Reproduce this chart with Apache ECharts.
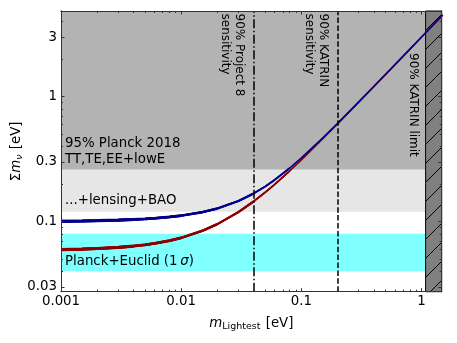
<!DOCTYPE html>
<html>
<head>
<meta charset="utf-8">
<script src="https://cdn.jsdelivr.net/npm/echarts@6/dist/echarts.min.js"></script>
<style>
html, body { margin: 0; padding: 0; background: #fff; }
#chart { width: 457px; height: 343px; }
</style>
</head>
<body>
<div id="chart"></div>
<script>
// lightest neutrino mass [eV]
var mLightest = [0.001, 0.0015, 0.002, 0.003, 0.004, 0.005, 0.006, 0.008, 0.01, 0.015, 0.02, 0.03,
    0.04, 0.05, 0.06, 0.08, 0.1, 0.15, 0.2, 0.3, 0.4, 0.5, 0.7, 1.0, 1.5];
// sum of masses, normal ordering (red)
var sumNormal = [0.0597, 0.0603, 0.0609, 0.0622, 0.0637, 0.0652, 0.0669, 0.0704, 0.0742, 0.0845, 0.0956, 0.1195,
    0.1450, 0.1715, 0.1987, 0.2548, 0.3122, 0.4584, 0.6063, 0.9043, 1.2032, 1.5026, 2.1018, 3.0013, 4.5009];
// sum of masses, inverted ordering (blue)
var sumInverted = [0.1007, 0.1012, 0.1018, 0.1029, 0.1040, 0.1052, 0.1064, 0.1090, 0.1117, 0.1191, 0.1274, 0.1464,
    0.1678, 0.1912, 0.2160, 0.2685, 0.3235, 0.4661, 0.6122, 0.9082, 1.2062, 1.5050, 2.1035, 3.0025, 4.5017];

// limits (eV)
var planck2018 = 0.26;
var lensingBAO = 0.12;
var euclidBand = [0.04, 0.08];
var project8 = 0.04;
var katrinSens = 0.2;
var katrinLimit = 1.08;

var xMin = 0.001, xMax = 1.47;
var yMin = 0.0275, yMax = 4.85;
var xTickValues = [0.001, 0.01, 0.1, 1];
var xTickLabels = ['0.001', '0.01', '0.1', '1'];
var xMinorTicks = [0.002, 0.003, 0.004, 0.005, 0.006, 0.007, 0.008, 0.009,
    0.02, 0.03, 0.04, 0.05, 0.06, 0.07, 0.08, 0.09,
    0.2, 0.3, 0.4, 0.5, 0.6, 0.7, 0.8, 0.9];
var yTickValues = [0.03, 0.1, 0.3, 1, 3];
var yTickLabels = ['0.03', '0.1', '0.3', '1', '3'];
var yMinorTicks = [0.04, 0.05, 0.06, 0.07, 0.08, 0.09, 0.2, 0.4, 0.5, 0.6, 0.7, 0.8, 0.9, 2, 4];

var FONT = 'DejaVu Sans';
var AXIS_COLOR = '#333';

// hatch pattern for the KATRIN exclusion
var hatch = document.createElement('canvas');
hatch.width = 19; hatch.height = 19;
(function () {
    var c = hatch.getContext('2d');
    c.fillStyle = '#808080';
    c.fillRect(0, 0, 19, 19);
    c.strokeStyle = '#000';
    c.lineWidth = 1;
    c.beginPath();
    c.moveTo(-2, 21); c.lineTo(21, -2);
    c.stroke();
})();

function lookup(values, labels) {
    return function (v) {
        for (var i = 0; i < values.length; i++) {
            if (Math.abs(v / values[i] - 1) < 1e-6) return labels[i];
        }
        return '';
    };
}

function makeAxis(kind, pos, ticks, len, withLabels) {
    var ax = {
        type: 'log',
        logBase: 10,
        min: kind === 'x' ? xMin : yMin,
        max: kind === 'x' ? xMax : yMax,
        position: pos,
        z: 10,
        axisLine: { show: true, onZero: false, lineStyle: { color: AXIS_COLOR, width: 1 } },
        axisTick: { show: true, inside: true, length: len, customValues: ticks,
            lineStyle: { color: AXIS_COLOR, width: 1 } },
        minorTick: { show: false },
        splitLine: { show: false },
        axisLabel: { show: false }
    };
    if (withLabels) {
        var vals = kind === 'x' ? xTickValues : yTickValues;
        var labs = kind === 'x' ? xTickLabels : yTickLabels;
        ax.axisLabel = {
            show: true, customValues: vals, formatter: lookup(vals, labs),
            color: '#000', fontFamily: FONT, fontSize: 13.33, margin: kind === 'x' ? 3 : 4
        };
    }
    return ax;
}

var xAxes = [
    makeAxis('x', 'bottom', xTickValues, 3.5, true),
    makeAxis('x', 'bottom', xMinorTicks, 2, false),
    makeAxis('x', 'top', xTickValues, 3.5, false),
    makeAxis('x', 'top', xMinorTicks, 2, false)
];
var yAxes = [
    makeAxis('y', 'left', yTickValues, 3.5, true),
    makeAxis('y', 'left', yMinorTicks, 2, false),
    makeAxis('y', 'right', yTickValues, 3.5, false),
    makeAxis('y', 'right', yMinorTicks, 2, false)
];

xAxes[0].name = '{i|m}{s|Lightest} [eV]';
xAxes[0].nameLocation = 'middle';
xAxes[0].nameGap = 23;
xAxes[0].nameMoveOverlap = false;
xAxes[0].nameTextStyle = {
    color: '#000', fontFamily: FONT, fontSize: 13.33,
    rich: {
        i: { fontStyle: 'italic', fontFamily: FONT, fontSize: 13.33, color: '#000' },
        s: { fontFamily: FONT, fontSize: 9.5, color: '#000', padding: [7, 1, 0, 0] }
    }
};
yAxes[0].name = 'Σ{i|m}{s|ν} [eV]';
yAxes[0].nameLocation = 'middle';
yAxes[0].nameGap = 36;
yAxes[0].nameMoveOverlap = false;
yAxes[0].nameTextStyle = {
    color: '#000', fontFamily: FONT, fontSize: 13.33,
    rich: {
        i: { fontStyle: 'italic', fontFamily: FONT, fontSize: 13.33, color: '#000' },
        s: { fontStyle: 'italic', fontFamily: FONT, fontSize: 9.5, color: '#000', padding: [7, 1, 0, 0] }
    }
};

function pairs(xs, ys, upTo) {
    var out = [];
    for (var i = 0; i < xs.length; i++) {
        if (xs[i] <= upTo) out.push([xs[i], ys[i]]);
    }
    return out;
}

// curves get thicker towards small masses
var widthSteps = [[2, 1.6], [0.08, 1.9], [0.04, 2.2], [0.02, 2.5], [0.01, 2.8], [0.004, 3.1]];
function curveSeries(name, ys, color) {
    return widthSteps.map(function (st) {
        return {
            name: name, type: 'line', data: pairs(mLightest, ys, st[0]),
            showSymbol: false, symbol: 'none', z: 3,
            lineStyle: { color: color, width: st[1] }
        };
    });
}

var series = [{
    type: 'line', data: [], z: 1,
    markArea: {
        silent: true,
        label: { show: false },
        data: [
            [{ yAxis: planck2018, itemStyle: { color: '#b3b3b3' } }, { yAxis: yMax }],
            [{ yAxis: lensingBAO, itemStyle: { color: '#e6e6e6' } }, { yAxis: planck2018 }],
            [{ yAxis: euclidBand[0], itemStyle: { color: '#80ffff' } }, { yAxis: euclidBand[1] }],
            [{ xAxis: katrinLimit, itemStyle: { color: { image: hatch, repeat: 'repeat' }, borderColor: '#000', borderWidth: 1 } },
             { xAxis: xMax }]
        ]
    },
    markLine: {
        silent: true, symbol: 'none', label: { show: false },
        data: [
            { xAxis: project8, lineStyle: { color: '#000', width: 1.5, type: [9, 2.5, 1.5, 2.5] } },
            { xAxis: katrinSens, lineStyle: { color: '#000', width: 1.5, type: [5.5, 2.4] } }
        ]
    }
}].concat(curveSeries('normal', sumNormal, '#8b0000'))
  .concat(curveSeries('inverted', sumInverted, '#00008b'));

var chart = echarts.init(document.getElementById('chart'), null, { renderer: 'canvas' });
chart.setOption({
    animation: false,
    backgroundColor: '#fff',
    grid: { left: 61, right: 15.3, top: 11, bottom: 51.3, containLabel: false, outerBoundsMode: 'none' },
    xAxis: xAxes,
    yAxis: yAxes,
    series: series
});

function px(x, y) {
    return chart.convertToPixel({ gridIndex: 0 }, [x, y]);
}
var plotTop = px(xMin, yMax)[1];
var txt = { fill: '#000', fontFamily: FONT, fontSize: 13.33 };
function hText(x, y, text, va, lh, rich) {
    return { type: 'text', x: x, y: y, z: 20, silent: true,
        style: Object.assign({ text: text, align: 'left', verticalAlign: va, lineHeight: lh, rich: rich }, txt) };
}
function vText(x, y, text) {
    return { type: 'text', x: x, y: y, rotation: -Math.PI / 2, z: 20, silent: true,
        style: { text: text, fill: '#000', fontFamily: FONT, fontSize: 12, lineHeight: 14,
            align: 'left', verticalAlign: 'top' } };
}
var plotLeft = px(xMin, 1)[0] + 4;
chart.setOption({
    graphic: [
        hText(plotLeft, px(xMin, planck2018)[1] - 1.5, '95% Planck 2018\nTT,TE,EE+lowE', 'bottom', 16.5),
        hText(plotLeft, px(xMin, lensingBAO)[1] - 11.5, '...+lensing+BAO', 'middle', 16),
        hText(plotLeft, px(xMin, euclidBand[0])[1] - 10, 'Planck+Euclid (1\u2009{i|σ})', 'middle', 16,
            { i: { fontStyle: 'italic', fontFamily: FONT, fontSize: 13.33, fill: '#000' } }),
        vText(px(project8, 1)[0] - 7, plotTop + 2.5, '90% Project 8\nsensitivity'),
        vText(px(katrinSens, 1)[0] - 7, plotTop + 2.5, '90% KATRIN\nsensitivity'),
        vText(px(katrinLimit, 1)[0] - 5, plotTop + 42, '90% KATRIN limit')
    ]
});
</script>
</body>
</html>
